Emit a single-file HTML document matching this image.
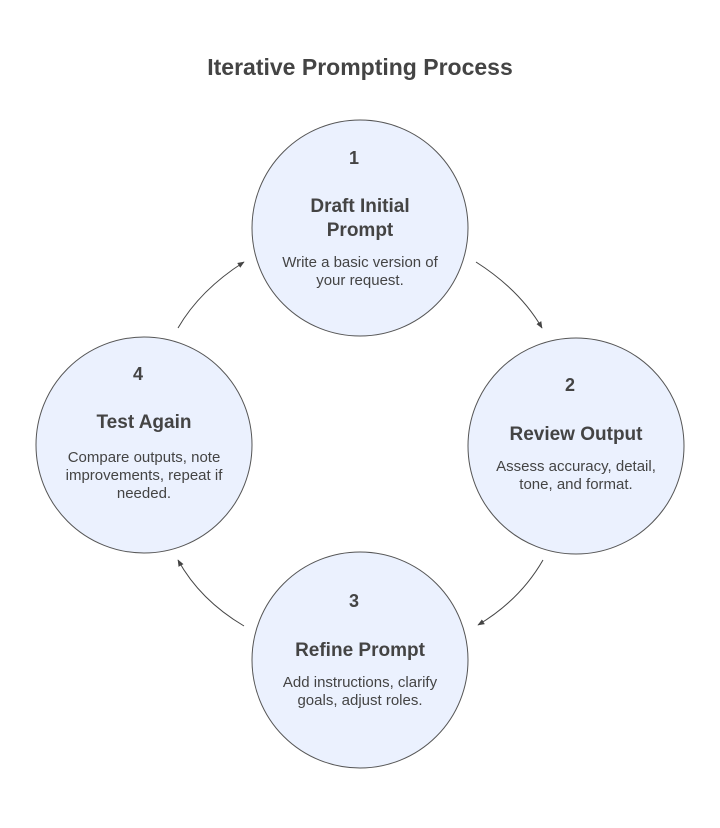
<!DOCTYPE html>
<html><head><style>
html,body{margin:0;padding:0;background:#fff;width:720px;height:828px;overflow:hidden}
</style></head><body>
<svg width="720" height="828" xmlns="http://www.w3.org/2000/svg" font-family="'Liberation Sans', sans-serif" fill="#444">
<defs><marker id="a" viewBox="0 0 10 10" refX="9" refY="5" markerWidth="7" markerHeight="7" orient="auto"><path d="M0,1 L10,5 L0,9 z" fill="#444"/></marker></defs>
<text x="360" y="75" text-anchor="middle" font-size="23" font-weight="bold">Iterative Prompting Process</text>
<g fill="#ebf1fe" stroke="#555" stroke-width="1">
<circle cx="360" cy="228" r="108"/>
<circle cx="576" cy="446" r="108"/>
<circle cx="360" cy="660" r="108"/>
<circle cx="144" cy="445" r="108"/>
</g>
<g fill="none" stroke="#444" stroke-width="1" marker-end="url(#a)">
<path d="M476,262 Q520,290 542,328"/>
<path d="M543,560 Q520,600 478,625"/>
<path d="M244,626 Q200,600 178,560"/>
<path d="M178,328 Q200,290 244,262"/>
</g>
<g text-anchor="middle">
<text x="354" y="164" font-size="18" font-weight="bold">1</text>
<text x="360" y="212" font-size="19" font-weight="bold">Draft Initial</text>
<text x="360" y="236" font-size="19" font-weight="bold">Prompt</text>
<text x="360" y="267" font-size="15">Write a basic version of</text>
<text x="360" y="285" font-size="15">your request.</text>

<text x="570" y="391" font-size="18" font-weight="bold">2</text>
<text x="576" y="440" font-size="19" font-weight="bold">Review Output</text>
<text x="576" y="471" font-size="15">Assess accuracy, detail,</text>
<text x="576" y="489" font-size="15">tone, and format.</text>

<text x="354" y="607" font-size="18" font-weight="bold">3</text>
<text x="360" y="656" font-size="19" font-weight="bold">Refine Prompt</text>
<text x="360" y="687" font-size="15">Add instructions, clarify</text>
<text x="360" y="705" font-size="15">goals, adjust roles.</text>

<text x="138" y="380" font-size="18" font-weight="bold">4</text>
<text x="144" y="428" font-size="19" font-weight="bold">Test Again</text>
<text x="144" y="462" font-size="15">Compare outputs, note</text>
<text x="144" y="480" font-size="15">improvements, repeat if</text>
<text x="144" y="498" font-size="15">needed.</text>
</g>
</svg>
</body></html>
